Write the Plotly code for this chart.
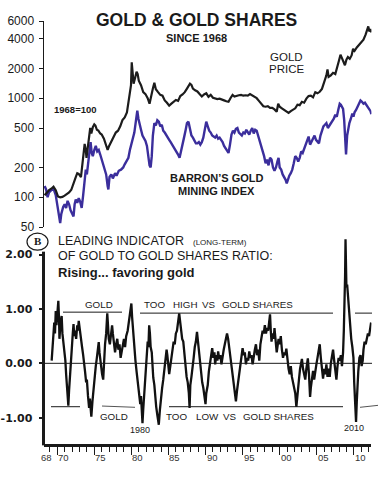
import plotly.graph_objects as go

# ---------------- DATA ----------------
gold_years = [1968.3, 1968.6, 1968.9, 1969.2, 1969.5, 1969.8, 1970.1, 1970.4, 1970.7, 1971.0, 1971.3, 1971.6, 1971.9,
              1972.2, 1972.5, 1972.7, 1972.9, 1973.2, 1973.4, 1973.55, 1973.7, 1973.85, 1973.95, 1974.15, 1974.3,
              1974.45, 1974.6, 1974.8, 1975.0, 1975.15, 1975.35, 1975.55, 1975.8, 1976.0, 1976.3, 1976.6, 1976.8,
              1977.0, 1977.3, 1977.6, 1977.9, 1978.2, 1978.5, 1978.8, 1979.1, 1979.4, 1979.6, 1979.8, 1979.95,
              1980.05, 1980.15, 1980.3, 1980.5, 1980.7, 1980.85, 1981.0, 1981.3, 1981.6, 1981.9, 1982.2, 1982.45,
              1982.7, 1982.9, 1983.1, 1983.3, 1983.6, 1983.9, 1984.2, 1984.5, 1984.8, 1985.1, 1985.4, 1985.7,
              1986.0, 1986.3, 1986.6, 1986.9, 1987.2, 1987.5, 1987.9, 1988.1, 1988.3, 1988.6, 1988.9, 1989.2,
              1989.5, 1989.8, 1990.1, 1990.4, 1990.7, 1991.0, 1991.3, 1991.6, 1991.9, 1992.2, 1992.5, 1992.8,
              1993.1, 1993.4, 1993.65, 1993.9, 1994.2, 1994.5, 1994.8, 1995.1, 1995.4, 1995.7, 1996.0, 1996.3,
              1996.6, 1996.9, 1997.2, 1997.5, 1997.8, 1998.1, 1998.4, 1998.7, 1999.0, 1999.3, 1999.6, 1999.8,
              2000.0, 2000.3, 2000.6, 2000.9, 2001.2, 2001.5, 2001.8, 2002.1, 2002.4, 2002.7, 2003.0, 2003.3,
              2003.6, 2003.9, 2004.2, 2004.5, 2004.8, 2005.1, 2005.4, 2005.7, 2006.0, 2006.3, 2006.45, 2006.6,
              2006.9, 2007.2, 2007.5, 2007.8, 2008.0, 2008.2, 2008.4, 2008.6, 2008.8, 2009.0, 2009.2, 2009.45,
              2009.7, 2009.9, 2010.1, 2010.4, 2010.7, 2011.0, 2011.3, 2011.6, 2011.8, 2011.95, 2012.1, 2012.25,
              2012.37]
gold_index = [105, 112, 118, 122, 128, 118, 102, 100, 101, 104, 108, 112, 119,
              135, 160, 175, 172, 160, 210, 270, 345, 300, 250, 330, 420,
              500, 440, 510, 545, 530, 480, 470, 440, 430, 390, 330, 300,
              330, 370, 400, 450, 470, 520, 600, 640, 720, 880, 1050, 1350,
              2300, 1700, 1400, 1600, 1850, 1750, 1500, 1350, 1150, 1100, 1000, 880,
              1100, 1250, 1430, 1230, 1150, 1080, 1060, 950, 900, 840, 880, 920,
              960, 940, 1050, 1090, 1150, 1250, 1400, 1360, 1250, 1200, 1170, 1100,
              1040, 1090, 1120, 1030, 1080, 1010, 1000, 980, 990, 960, 950, 930,
              920, 1010, 1080, 1040, 1060, 1070, 1080, 1060, 1070, 1060, 1100, 1070,
              1040, 1000, 940, 890, 830, 820, 830, 800, 800, 770, 730, 880,
              820, 790, 760, 730, 710, 740, 760, 790, 860, 850, 920, 900,
              990, 1050, 1060, 1020, 1150, 1120, 1160, 1240, 1450, 1700, 1950, 1640,
              1700, 1800, 1750, 2050, 2400, 2750, 2500, 2300, 2150, 2450, 2600, 2500,
              2700, 3150, 3000, 3250, 3450, 3700, 3900, 4400, 4900, 5300, 4700, 5000,
              4600]

shares_years = [1968.3, 1968.5, 1968.7, 1968.9, 1969.2, 1969.5, 1969.8, 1970.0, 1970.2, 1970.4, 1970.55, 1970.8,
                1971.0, 1971.2, 1971.4, 1971.6, 1971.8, 1972.0, 1972.2, 1972.35, 1972.5, 1972.7, 1972.9, 1973.1,
                1973.3, 1973.5, 1973.7, 1973.85, 1974.0, 1974.2, 1974.35, 1974.5, 1974.65, 1974.8, 1975.0, 1975.2,
                1975.4, 1975.6, 1975.8, 1976.0, 1976.3, 1976.6, 1976.8, 1976.9, 1977.05, 1977.3, 1977.5, 1977.8,
                1978.0, 1978.3, 1978.6, 1978.9, 1979.1, 1979.4, 1979.6, 1979.8, 1980.0, 1980.2, 1980.4, 1980.6,
                1980.8, 1980.95, 1981.1, 1981.3, 1981.5, 1981.7, 1981.9, 1982.1, 1982.3, 1982.45, 1982.6, 1982.75,
                1982.9, 1983.1, 1983.3, 1983.5, 1983.7, 1983.9, 1984.1, 1984.3, 1984.5, 1984.7, 1984.9, 1985.1,
                1985.3, 1985.5, 1985.7, 1985.9, 1986.1, 1986.3, 1986.5, 1986.7, 1986.9, 1987.1, 1987.3, 1987.5,
                1987.7, 1987.9, 1988.1, 1988.3, 1988.5, 1988.7, 1988.9, 1989.1, 1989.3, 1989.5, 1989.7, 1989.9,
                1990.1, 1990.3, 1990.5, 1990.7, 1990.9, 1991.1, 1991.3, 1991.5, 1991.7, 1991.9, 1992.1, 1992.3,
                1992.5, 1992.7, 1992.9, 1993.1, 1993.3, 1993.5, 1993.7, 1993.9, 1994.1, 1994.3, 1994.5, 1994.7,
                1994.9, 1995.1, 1995.3, 1995.5, 1995.7, 1995.9, 1996.1, 1996.3, 1996.5, 1996.7, 1996.9, 1997.1,
                1997.3, 1997.5, 1997.7, 1997.9, 1998.1, 1998.3, 1998.5, 1998.7, 1998.9, 1999.1, 1999.3, 1999.5,
                1999.7, 1999.85, 2000.0, 2000.2, 2000.4, 2000.6, 2000.8, 2000.95, 2001.1, 2001.3, 2001.5, 2001.7,
                2001.9, 2002.1, 2002.3, 2002.5, 2002.7, 2002.9, 2003.1, 2003.3, 2003.5, 2003.7, 2003.9, 2004.1,
                2004.3, 2004.5, 2004.7, 2004.9, 2005.1, 2005.3, 2005.5, 2005.7, 2005.9, 2006.1, 2006.3, 2006.5,
                2006.7, 2006.9, 2007.1, 2007.3, 2007.5, 2007.7, 2007.9, 2008.1, 2008.25, 2008.4, 2008.55, 2008.7,
                2008.85, 2008.95, 2009.1, 2009.25, 2009.4, 2009.6, 2009.8, 2009.95, 2010.1, 2010.3, 2010.5, 2010.7,
                2010.9, 2011.1, 2011.3, 2011.5, 2011.7, 2011.9, 2012.1, 2012.25, 2012.37]
shares_index = [130, 120, 100, 112, 118, 122, 105, 85, 70, 55, 68, 80,
                85, 78, 92, 85, 74, 68, 64, 85, 95, 88, 98, 90,
                78, 105, 145, 190, 170, 230, 300, 360, 280, 260, 300, 330,
                290, 300, 270, 240, 210, 170, 130, 120, 160, 170, 155, 175,
                165, 185, 190, 200, 215, 240, 250, 300, 340, 380, 450, 580,
                750, 620, 540, 480, 420, 400, 370, 330, 260, 210, 200, 260,
                420, 560, 530, 600, 580, 520, 540, 470, 450, 420, 400, 380,
                360, 340, 330, 310, 290, 270, 250, 300, 360, 400, 470, 560,
                580, 470, 420, 400, 370, 350, 350, 360, 340, 360, 400, 500,
                580, 520, 470, 450, 420, 410, 400, 420, 390, 400, 380, 360,
                330, 310, 290, 280, 340, 430, 470, 450, 490, 500, 450, 430,
                420, 450, 440, 480, 460, 430, 470, 500, 440, 480, 470, 420,
                380, 330, 300, 260, 220, 240, 210, 250, 240, 200, 185, 200,
                230, 250, 200, 190, 170, 160, 150, 138, 150, 165, 175, 190,
                220, 260, 250, 230, 250, 290, 280, 310, 330, 370, 410, 340,
                370, 400, 420, 380, 360, 350, 420, 470, 520, 540, 560, 500,
                530, 560, 580, 620, 680, 650, 760, 880, 860, 800, 780, 600,
                300, 270, 420, 520, 560, 620, 700, 650, 720, 760, 820, 880,
                950, 920, 880, 900, 850, 800, 770, 740, 690]

osc_years = [1969.25, 1969.45, 1969.6, 1969.7, 1969.8, 1969.9, 1970.0, 1970.15, 1970.25, 1970.3, 1970.45, 1970.6,
             1970.7, 1970.85, 1971.0, 1971.1, 1971.2, 1971.3, 1971.4, 1971.5, 1971.6, 1971.7, 1971.8, 1971.95,
             1972.1, 1972.2, 1972.3, 1972.4, 1972.55, 1972.7, 1972.8, 1972.9, 1973.05, 1973.2, 1973.35, 1973.5,
             1973.6, 1973.75, 1973.9, 1974.0, 1974.15, 1974.3, 1974.4, 1974.5, 1974.6, 1974.75, 1974.9, 1975.05,
             1975.2, 1975.3, 1975.45, 1975.6, 1975.7, 1975.8, 1975.9, 1976.05, 1976.2, 1976.3, 1976.45, 1976.6,
             1976.75, 1976.85, 1976.95, 1977.1, 1977.25, 1977.4, 1977.5, 1977.65, 1977.8, 1977.95, 1978.1, 1978.25,
             1978.4, 1978.55, 1978.7, 1978.85, 1979.0, 1979.15, 1979.3, 1979.5, 1979.7, 1979.85, 1980.0, 1980.1,
             1980.25, 1980.4, 1980.55, 1980.7, 1980.85, 1981.0, 1981.1, 1981.2, 1981.3, 1981.4, 1981.5, 1981.6,
             1981.75, 1981.9, 1982.05, 1982.2, 1982.3, 1982.4, 1982.5, 1982.6, 1982.75, 1982.85, 1982.95, 1983.1,
             1983.2, 1983.35, 1983.5, 1983.7, 1983.85, 1984.0, 1984.15, 1984.3, 1984.45, 1984.6, 1984.75, 1984.85,
             1984.95, 1985.1, 1985.25, 1985.4, 1985.55, 1985.7, 1985.85, 1986.0, 1986.15, 1986.3, 1986.45, 1986.55,
             1986.7, 1986.85, 1987.0, 1987.15, 1987.3, 1987.45, 1987.6, 1987.75, 1987.85, 1987.95, 1988.1, 1988.25,
             1988.4, 1988.55, 1988.7, 1988.85, 1988.95, 1989.1, 1989.25, 1989.4, 1989.55, 1989.7, 1989.85, 1990.0,
             1990.1, 1990.3, 1990.45, 1990.6, 1990.75, 1990.9, 1991.05, 1991.2, 1991.3, 1991.45, 1991.6, 1991.7,
             1991.85, 1992.0, 1992.15, 1992.3, 1992.45, 1992.6, 1992.75, 1992.9, 1993.05, 1993.2, 1993.35, 1993.5,
             1993.65, 1993.8, 1993.95, 1994.1, 1994.25, 1994.4, 1994.55, 1994.7, 1994.85, 1995.0, 1995.15, 1995.3,
             1995.45, 1995.6, 1995.75, 1995.9, 1996.05, 1996.2, 1996.35, 1996.5, 1996.65, 1996.8, 1996.95, 1997.1,
             1997.25, 1997.4, 1997.55, 1997.7, 1997.85, 1998.0, 1998.15, 1998.3, 1998.45, 1998.6, 1998.7, 1998.8,
             1998.9, 1999.05, 1999.2, 1999.3, 1999.45, 1999.6, 1999.7, 1999.85, 2000.0, 2000.15, 2000.3, 2000.45,
             2000.6, 2000.75, 2000.9, 2001.05, 2001.2, 2001.35, 2001.5, 2001.65, 2001.8, 2001.95, 2002.1, 2002.25,
             2002.35, 2002.5, 2002.6, 2002.75, 2002.9, 2003.0, 2003.15, 2003.3, 2003.45, 2003.6, 2003.8, 2003.95,
             2004.1, 2004.2, 2004.35, 2004.5, 2004.65, 2004.8, 2004.95, 2005.1, 2005.25, 2005.4, 2005.55, 2005.7,
             2005.85, 2006.0, 2006.15, 2006.3, 2006.45, 2006.6, 2006.75, 2006.9, 2007.05, 2007.2, 2007.35, 2007.5,
             2007.65, 2007.8, 2007.95, 2008.1, 2008.25, 2008.4, 2008.55, 2008.65, 2008.75, 2008.82, 2008.88, 2008.95,
             2009.0, 2009.1, 2009.2, 2009.3, 2009.4, 2009.5, 2009.65, 2009.8, 2009.95, 2010.05, 2010.15, 2010.25,
             2010.3, 2010.4, 2010.5, 2010.6, 2010.75, 2010.9, 2011.05, 2011.2, 2011.3, 2011.45, 2011.6, 2011.75,
             2011.9, 2012.05, 2012.2, 2012.33]
osc_values = [0.05, 0.40, 0.75, 0.55, 0.96, 0.70, 0.95, 1.15, 0.80, 0.45, 0.75, 0.87,
              0.55, 0.40, 0.16, 0.05, -0.20, -0.40, -0.55, -0.78, -0.50, -0.25, -0.02, 0.30,
              0.55, 0.72, 0.50, 0.60, 0.45, 0.70, 0.60, 0.78, 0.65, 0.45, 0.30, 0.15,
              -0.05, -0.15, -0.35, -0.30, -0.60, -0.82, -0.65, -0.85, -0.98, -0.70, -0.44, -0.25,
              -0.05, 0.05, 0.25, 0.39, 0.20, 0.05, -0.10, -0.20, -0.30, 0.00, 0.35, 0.55,
              0.92, 0.70, 0.45, 0.35, 0.55, 0.70, 0.55, 0.35, 0.20, 0.35, 0.45, 0.25,
              0.35, 0.10, 0.20, 0.30, 0.45, 0.30, 0.50, 0.60, 0.80, 0.95, 1.10, 0.85,
              0.55, 0.30, 0.05, -0.15, -0.35, -0.45, -0.55, -0.75, -0.60, -0.90, -1.10, -0.85,
              -0.55, -0.30, 0.10, 0.40, 0.30, 0.70, 0.55, 0.30, 0.20, -0.05, -0.26, -0.40,
              -0.60, -0.80, -0.95, -1.13, -0.85, -0.60, -0.45, -0.30, -0.10, 0.10, 0.25, 0.15,
              -0.05, -0.20, -0.05, 0.10, 0.25, 0.40, 0.35, 0.55, 0.60, 0.75, 0.92, 0.80,
              0.62, 0.45, 0.40, 0.15, -0.05, -0.25, -0.35, -0.55, -0.82, -0.40, -0.25, -0.10,
              0.10, 0.30, 0.40, 0.58, 0.45, 0.15, -0.05, -0.25, -0.35, -0.45, -0.60, -0.75,
              -0.55, -0.40, -0.15, 0.00, 0.15, 0.28, 0.10, 0.20, -0.02, 0.15, 0.05, 0.22,
              0.08, 0.15, -0.02, 0.15, 0.25, 0.35, 0.45, 0.55, 0.45, 0.30, 0.15, 0.00,
              -0.15, -0.35, -0.50, -0.70, -0.50, -0.35, -0.15, 0.00, 0.10, 0.28, 0.15, 0.20,
              -0.02, 0.10, 0.05, 0.22, 0.10, 0.15, -0.02, 0.15, 0.25, 0.35, 0.15, 0.25,
              0.05, 0.35, 0.45, 0.60, 0.55, 0.70, 0.55, 0.65, 0.60, 0.80, 0.90, 0.60,
              0.40, 0.55, 0.45, 0.65, 0.40, 0.20, 0.30, 0.45, 0.35, 0.50, 0.25, 0.10,
              0.20, 0.15, 0.27, 0.05, -0.10, -0.20, -0.05, -0.25, -0.35, -0.45, -0.55, -0.80,
              -0.60, -0.40, -0.30, -0.10, 0.05, 0.08, -0.10, -0.20, -0.30, -0.10, 0.09, -0.20,
              -0.62, -0.45, -0.25, -0.14, -0.30, -0.10, -0.02, 0.10, 0.20, 0.35, 0.10, -0.10,
              -0.28, -0.10, -0.20, -0.02, -0.25, -0.10, -0.25, 0.00, 0.15, 0.25, 0.05, -0.15,
              -0.30, -0.05, 0.10, 0.05, 0.15, -0.05, 0.20, 0.60, 1.00, 1.60, 2.28, 1.90,
              1.40, 1.45, 1.25, 1.00, 0.80, 0.60, 0.45, 0.30, 0.10, -0.35, -0.65, -0.95,
              -1.08, -0.70, -0.35, -0.15, 0.10, 0.15, -0.05, 0.05, 0.25, 0.40, 0.35, 0.50,
              0.55, 0.50, 0.65, 0.75]

top_tickvals = [50, 100, 200, 500, 1000, 2000, 4000, 6000]
bottom_tickvals = [2, 1, 0, -1]
bottom_ticktext = ["2.00", "1.00", "0.00", "-1.00"]
year_tick_years = [1968, 1970, 1975, 1980, 1985, 1990, 1995, 2000, 2005, 2010]
year_tick_labels = ["68", "70", "75", "80", "85", "90", "95", "00", "05", "10"]

# ---------------- LAYOUT HELPERS ----------------
W, H = 389, 481
def fx(x):
    return x / W
def fy(y):
    return 1 - y / H

FONT = "Liberation Sans, Arial, sans-serif"
GOLD_COLOR = "#1c1c1c"
SHARES_COLOR = "#3b2e9c"

XR = [1968.15, 2012.37]
XPIX = [43.5, 371.4]
XDOM = [fx(XPIX[0]), fx(XPIX[1])]

def year_to_px(yr):
    # same linear mapping as the x axes (range XR over domain XPIX)
    return XPIX[0] + (yr - XR[0]) * (XPIX[1] - XPIX[0]) / (XR[1] - XR[0])

fig = go.Figure()
fig.add_trace(go.Scatter(x=shares_years, y=shares_index, mode="lines",
                         line=dict(color=SHARES_COLOR, width=2.4), xaxis="x", yaxis="y", hoverinfo="skip"))
fig.add_trace(go.Scatter(x=gold_years, y=gold_index, mode="lines",
                         line=dict(color=GOLD_COLOR, width=2.2), xaxis="x", yaxis="y", hoverinfo="skip"))
fig.add_trace(go.Scatter(x=osc_years, y=osc_values, mode="lines",
                         line=dict(color="#111111", width=2.3), xaxis="x2", yaxis="y2", hoverinfo="skip"))

annotations = []
def txt(x, y, s, size, bold=False, anchor="center", family=FONT, color="#1a1a1a"):
    annotations.append(dict(
        x=fx(x), y=fy(y), xref="paper", yref="paper",
        text=("<b>%s</b>" % s) if bold else s, showarrow=False,
        xanchor=anchor, yanchor="middle", borderpad=0,
        font=dict(family=family, size=size, color=color)))

# top panel texts
txt(196, 13, "GOLD &amp; GOLD SHARES", 17.5, bold=True)
txt(196, 32, "SINCE 1968", 11, bold=True)
txt(286, 51, "GOLD", 11.5)
txt(286, 64, "PRICE", 11.5)
txt(75.5, 106, "1968=100", 9.5, bold=True)
txt(217, 176, "BARRON’S GOLD", 11, bold=True)
txt(217, 190, "MINING INDEX", 11, bold=True)

# bottom panel texts
txt(37.5, 241.5, "B", 11, bold=True, family="Liberation Serif, Times New Roman, serif")
txt(56.5, 241.5, "LEADING INDICATOR", 12.5, anchor="left")
txt(192, 242.5, "(LONG-TERM)", 8, anchor="left")
txt(56.5, 256.5, "OF GOLD TO GOLD SHARES RATIO:", 12.5, anchor="left")
txt(56.5, 273, "Rising... favoring gold", 13, bold=True, anchor="left")

txt(99, 306.5, "GOLD", 9.8)
txt(154.5, 306.5, "TOO", 9.8)
txt(185, 306.5, "HIGH", 9.8)
txt(209, 306.5, "VS", 9.8)
txt(257.8, 306.5, "GOLD SHARES", 9.8)
txt(114, 421.5, "GOLD", 9.8)
txt(176.7, 421.5, "TOO", 9.8)
txt(207.2, 421.5, "LOW", 9.8)
txt(229.7, 421.5, "VS", 9.8)
txt(278, 421.5, "GOLD SHARES", 9.8)
txt(140, 435.5, "1980", 9)
txt(354, 433.5, "2010", 9)

# year labels, to the right of each major tick
for yr, lab in zip(year_tick_years, year_tick_labels):
    txt(year_to_px(yr) + (4 if lab == "68" else 6.5), 464.5, lab, 9.5, color="#333333")

shapes = []
def seg(x0, y0, x1, y1, w=1.0, color="#1a1a1a"):
    shapes.append(dict(type="line", xref="paper", yref="paper",
                       x0=fx(x0), y0=fy(y0), x1=fx(x1), y1=fy(y1),
                       line=dict(color=color, width=w)))

# circle around B
shapes.append(dict(type="circle", xref="paper", yref="paper",
                   x0=fx(27), x1=fx(48), y0=fy(233), y1=fy(250.5),
                   line=dict(color="#1a1a1a", width=1.2)))
# thick left axis of bottom panel
seg(43.5, 252, 43.5, 451.5, w=3)
# zero line
seg(43.5, 367, 372, 367, w=1)
# high reference lines
seg(63, 314.3, 122, 314.3)
seg(140, 315.3, 333, 315.3)
seg(355, 315.3, 372, 315.3)
# low reference lines
seg(51, 411.7, 80, 411.7)
seg(102, 411, 135, 412.3, color="#555555")
seg(169, 411.7, 343, 411.7)
seg(360, 412.3, 378, 410.3, color="#555555")

fig.update_layout(
    width=W, height=H, margin=dict(l=0, r=0, t=0, b=0),
    paper_bgcolor="white", plot_bgcolor="white", showlegend=False,
    font=dict(family=FONT, color="#1a1a1a"),
    xaxis=dict(domain=XDOM, range=XR, visible=False, anchor="y"),
    yaxis=dict(domain=[fy(226.7), fy(14.5)], type="log", range=[1.69897, 3.77815],
               anchor="x", showgrid=False, zeroline=False,
               showline=True, linecolor="#1a1a1a", linewidth=1,
               ticks="outside", ticklen=4, tickcolor="#1a1a1a", tickwidth=1,
               tickvals=top_tickvals, ticktext=[str(v) for v in top_tickvals],
               tickfont=dict(size=12, family=FONT, color="#1a1a1a"), ticklabelstandoff=2),
    xaxis2=dict(domain=XDOM, range=XR, anchor="y2", showgrid=False, zeroline=False,
                showline=True, linecolor="#1a1a1a", linewidth=3,
                ticks="outside", ticklen=8, tickwidth=1, tickcolor="#1a1a1a",
                tick0=1970, dtick=5, showticklabels=False,
                minor=dict(ticks="outside", ticklen=5, tickwidth=1, tickcolor="#1a1a1a",
                           tick0=1970, dtick=1, showgrid=False)),
    yaxis2=dict(domain=[fy(450), fy(236)], range=[-1.4821, 2.3393], anchor="x2",
                showgrid=False, zeroline=False, showline=False,
                ticks="outside", ticklen=4, tickwidth=2, tickcolor="#1a1a1a",
                tickvals=bottom_tickvals, ticktext=["<b>%s</b>" % t for t in bottom_ticktext],
                tickfont=dict(size=11, family="DejaVu Sans, sans-serif", color="#1a1a1a"),
                ticklabelstandoff=4),
    annotations=annotations,
    shapes=shapes,
)

fig.write_html("out.html",
               config={"displayModeBar": False, "staticPlot": True},
               post_script="document.body.style.margin='0px';document.body.style.overflow='hidden';")
